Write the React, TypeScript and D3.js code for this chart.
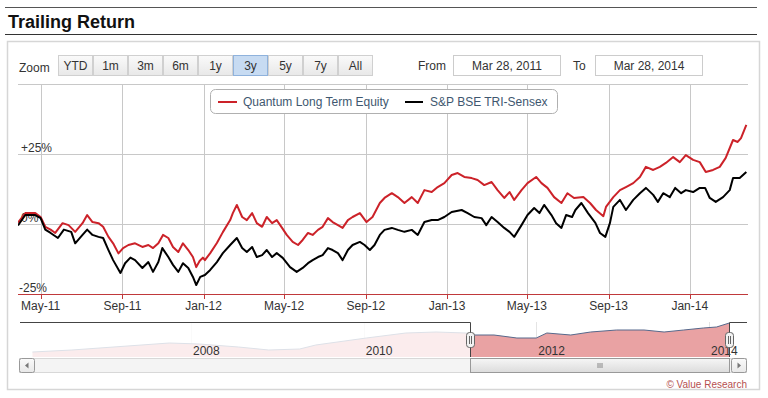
import React from "react";
import * as d3 from "d3";

const W = 768;
const H = 398;

const zoomButtons = ["YTD", "1m", "3m", "6m", "1y", "3y", "5y", "7y", "All"];
const selectedZoom = "3y";
const fromDate = "2011-03-28";
const toDate = "2014-03-28";
const fromLabel = "Mar 28, 2011";
const toLabel = "Mar 28, 2014";
const yTicks = [-25, 0, 25, 50];
const navYears = [2008, 2010, 2012, 2014];
const seriesNames = ["Quantum Long Term Equity", "S&P BSE TRI-Sensex"];

// cumulative return in %
const fundSeries: [string, number][] = [
  ["2011-03-28", 0.5], ["2011-04-08", 3.9], ["2011-04-23", 3.9], ["2011-05-01", 2.5],
  ["2011-05-08", -1], ["2011-05-16", -2], ["2011-05-23", -3.2], ["2011-06-03", 0.3],
  ["2011-06-12", -0.4], ["2011-06-22", -2.8], ["2011-07-03", 0.3], ["2011-07-10", 3.2],
  ["2011-07-18", 0.7], ["2011-07-27", 0.3], ["2011-08-03", -1], ["2011-08-11", -4.6],
  ["2011-08-18", -6.9], ["2011-08-26", -10.5], ["2011-09-02", -8.6], ["2011-09-10", -7.5],
  ["2011-09-20", -6.9], ["2011-10-01", -8.2], ["2011-10-10", -7.5], ["2011-10-17", -8.6],
  ["2011-10-25", -6.9], ["2011-11-01", -3.9], ["2011-11-09", -5], ["2011-11-16", -8.2],
  ["2011-11-24", -10], ["2011-12-01", -6.9], ["2011-12-09", -9.3], ["2011-12-16", -11.8],
  ["2011-12-21", -15.4], ["2011-12-26", -13.2], ["2011-12-31", -12], ["2012-01-03", -12.9],
  ["2012-01-11", -10.4], ["2012-01-21", -6.8], ["2012-01-30", -2.9], ["2012-02-10", 1.4],
  ["2012-02-14", 3.9], ["2012-02-20", 6.8], ["2012-02-28", 2.5], ["2012-03-06", 1.4],
  ["2012-03-14", 3.9], ["2012-03-21", 0.3], ["2012-03-29", -1], ["2012-04-05", 2.5],
  ["2012-04-13", 0.3], ["2012-04-20", 1.4], ["2012-04-28", -1.4], ["2012-05-05", -3.9],
  ["2012-05-14", -6.4], ["2012-05-22", -7.5], ["2012-05-29", -5.7], ["2012-06-06", -3.2],
  ["2012-06-13", -3.9], ["2012-06-21", -2.1], ["2012-06-28", -1], ["2012-07-06", 2.1],
  ["2012-07-13", 0.7], ["2012-07-21", -0.4], ["2012-07-28", -1.4], ["2012-08-05", 1.4],
  ["2012-08-12", 2.5], ["2012-08-23", 3.9], ["2012-09-02", 0.7], ["2012-09-11", 2.5],
  ["2012-09-22", 7.5], ["2012-09-29", 9.3], ["2012-10-10", 11], ["2012-10-19", 9.6],
  ["2012-10-29", 7.5], ["2012-11-09", 9.6], ["2012-11-18", 7.5], ["2012-11-28", 12.1],
  ["2012-12-09", 11.4], ["2012-12-18", 13.2], ["2012-12-28", 14.6], ["2013-01-08", 17.5],
  ["2013-01-17", 18.2], ["2013-01-27", 16.8], ["2013-02-07", 16.4], ["2013-02-16", 15.7],
  ["2013-02-26", 13.9], ["2013-03-09", 15], ["2013-03-18", 12.1], ["2013-03-28", 9.3],
  ["2013-04-05", 11.4], ["2013-04-12", 8.6], ["2013-04-23", 12.1], ["2013-05-02", 14.6],
  ["2013-05-15", 16.8], ["2013-05-23", 14.6], ["2013-06-01", 12.9], ["2013-06-11", 9.6],
  ["2013-06-22", 7.5], ["2013-07-01", 11], ["2013-07-11", 9.3], ["2013-07-25", 9.6],
  ["2013-08-04", 7.5], ["2013-08-13", 5], ["2013-08-24", 2.8], ["2013-08-28", 6.1],
  ["2013-09-08", 9.6], ["2013-09-18", 12.1], ["2013-09-27", 13.2], ["2013-10-08", 14.6],
  ["2013-10-18", 16.8], ["2013-10-27", 20.4], ["2013-11-07", 19.3], ["2013-11-17", 20.4],
  ["2013-11-26", 21.8], ["2013-12-07", 23.9], ["2013-12-17", 22.1], ["2013-12-26", 24.6],
  ["2014-01-06", 22.9], ["2014-01-16", 22.1], ["2014-01-25", 18.6], ["2014-02-05", 19.3],
  ["2014-02-15", 20.4], ["2014-02-24", 23.6], ["2014-03-07", 30], ["2014-03-14", 29.3],
  ["2014-03-19", 30.7], ["2014-03-27", 35.4],
];

const sensexSeries: [string, number][] = [
  ["2011-03-28", -0.5], ["2011-04-08", 3.2], ["2011-04-23", 3.2], ["2011-05-01", 2.1],
  ["2011-05-08", -2], ["2011-05-16", -3.2], ["2011-05-27", -5], ["2011-06-05", -2],
  ["2011-06-16", -2.8], ["2011-06-22", -6.9], ["2011-07-03", -3.9], ["2011-07-10", -2],
  ["2011-07-18", -3.9], ["2011-07-27", -4.6], ["2011-08-03", -5], ["2011-08-11", -9.3],
  ["2011-08-18", -12.9], ["2011-08-29", -17.5], ["2011-09-05", -14], ["2011-09-13", -12],
  ["2011-09-20", -12.9], ["2011-10-01", -15.7], ["2011-10-10", -13.6], ["2011-10-17", -17.1],
  ["2011-10-25", -13.6], ["2011-10-31", -8.6], ["2011-11-09", -11.8], ["2011-11-16", -14.6],
  ["2011-11-24", -17.1], ["2011-12-01", -14], ["2011-12-09", -15.7], ["2011-12-16", -18.9],
  ["2011-12-21", -21.8], ["2011-12-27", -18.9], ["2012-01-03", -18.2], ["2012-01-11", -16.4],
  ["2012-01-21", -13.6], ["2012-01-30", -10.4], ["2012-02-10", -7.5], ["2012-02-20", -5],
  ["2012-02-28", -8.6], ["2012-03-06", -10], ["2012-03-14", -8.2], ["2012-03-21", -11.8],
  ["2012-03-29", -11.1], ["2012-04-05", -9.3], ["2012-04-13", -11.8], ["2012-04-20", -10.4],
  ["2012-04-29", -12.1], ["2012-05-10", -15.4], ["2012-05-20", -17.1], ["2012-05-29", -15.7],
  ["2012-06-06", -14], ["2012-06-13", -12.9], ["2012-06-21", -11.8], ["2012-06-28", -11.1],
  ["2012-07-06", -8.6], ["2012-07-13", -9.3], ["2012-07-21", -10.4], ["2012-07-28", -12.9],
  ["2012-08-05", -9.3], ["2012-08-12", -7.5], ["2012-08-23", -6.4], ["2012-08-30", -7.5],
  ["2012-09-07", -9.3], ["2012-09-14", -7.5], ["2012-09-22", -3.9], ["2012-09-29", -2.1],
  ["2012-10-10", -1.4], ["2012-10-19", -2.1], ["2012-10-29", -2.8], ["2012-11-09", -2.1],
  ["2012-11-18", -3.9], ["2012-11-28", 0.7], ["2012-12-09", 1.4], ["2012-12-18", 1.4],
  ["2012-12-28", 2.5], ["2013-01-08", 4.3], ["2013-01-23", 5], ["2013-02-01", 3.9],
  ["2013-02-11", 2.5], ["2013-02-22", 2.1], ["2013-03-01", -0.4], ["2013-03-09", 2.5],
  ["2013-03-18", 0.7], ["2013-03-28", -1.4], ["2013-04-05", -2.8], ["2013-04-12", -4.6],
  ["2013-04-23", -0.4], ["2013-05-02", 3.2], ["2013-05-12", 5.7], ["2013-05-20", 3.9],
  ["2013-05-27", 6.8], ["2013-06-07", 3.2], ["2013-06-14", 0.3], ["2013-06-22", -1.4],
  ["2013-06-29", 3.2], ["2013-07-08", 2.5], ["2013-07-13", 5], ["2013-07-22", 7.5],
  ["2013-08-01", 3.9], ["2013-08-12", 0.4], ["2013-08-19", -3.2], ["2013-08-27", -4.6],
  ["2013-09-03", 0.4], ["2013-09-08", 6.1], ["2013-09-18", 8.6], ["2013-09-27", 5],
  ["2013-10-08", 8.6], ["2013-10-18", 11], ["2013-10-27", 12.9], ["2013-11-07", 10.4],
  ["2013-11-14", 7.9], ["2013-11-22", 11], ["2013-12-02", 9.6], ["2013-12-10", 12.9],
  ["2013-12-19", 11], ["2013-12-26", 12.1], ["2014-01-06", 11.4], ["2014-01-16", 12.9],
  ["2014-01-24", 12.9], ["2014-01-31", 9.3], ["2014-02-09", 7.9], ["2014-02-20", 9.6],
  ["2014-03-02", 12.1], ["2014-03-07", 16.4], ["2014-03-17", 16.4], ["2014-03-27", 18.6],
];

// navigator (long history of the fund)
const navSeries: [string, number][] = [
  ["2006-03-01", 5], ["2006-08-15", 7], ["2007-10-01", 14], ["2008-02-05", 13],
  ["2008-07-20", 10], ["2008-11-25", 7], ["2009-04-05", 8], ["2009-06-12", 12],
  ["2010-01-12", 19], ["2010-06-28", 24], ["2010-11-03", 25], ["2011-03-10", 24],
  ["2011-04-12", 22], ["2011-07-06", 22], ["2011-10-11", 19], ["2012-01-01", 19],
  ["2012-02-15", 24], ["2012-05-26", 22], ["2012-08-18", 25], ["2012-12-06", 27],
  ["2013-04-01", 27], ["2013-06-25", 25], ["2013-09-16", 27], ["2013-12-08", 29],
  ["2014-02-02", 30], ["2014-03-28", 34],
];

const parse = d3.timeParse("%Y-%m-%d");
const font = "'Liberation Sans', Arial, sans-serif";
const red = "#cc2229";

export default function App() {
  const plot = { left: 18, right: 748, top: 84, bottom: 294 };
  const x = d3.scaleTime().domain([parse(fromDate)!, parse(toDate)!]).range([18, 747]);
  const y = d3.scaleLinear().domain([-25, 50]).range([plot.bottom, plot.top]);
  const line = d3
    .line<[string, number]>()
    .x((d) => x(parse(d[0])!))
    .y((d) => y(d[1]));
  const xTicks = x.ticks(d3.timeMonth.every(4)!);
  const fmt = d3.timeFormat("%b-%y");

  const nav = { left: 20, right: 747, top: 322, bottom: 357 };
  const xNav = d3.scaleTime().domain([new Date(2008, 0, 1), new Date(2014, 0, 1)]).range([191, 709]);
  const yNav = d3.scaleLinear().domain([0, 36]).range([nav.bottom, 321]);
  const navArea = d3
    .area<[string, number]>()
    .x((d) => xNav(parse(d[0])!))
    .y0(nav.bottom)
    .y1((d) => yNav(d[1]));
  const navLine = d3
    .line<[string, number]>()
    .x((d) => xNav(parse(d[0])!))
    .y((d) => yNav(d[1]));
  const s0 = Math.round(xNav(parse(fromDate)!));
  const s1 = Math.round(xNav(parse(toDate)!));

  return (
    <svg width={W} height={H} style={{ position: "absolute", left: 0, top: 0, background: "#fff" }} fontFamily={font}>
      <defs>
        <clipPath id="plotClip">
          <rect x={plot.left} y={plot.top - 2} width={plot.right - plot.left} height={plot.bottom - plot.top + 4} />
        </clipPath>
        <linearGradient id="btn" x1="0" y1="0" x2="0" y2="1">
          <stop offset="0" stopColor="#fafafa" />
          <stop offset="1" stopColor="#e8e8e8" />
        </linearGradient>
        <linearGradient id="thumb" x1="0" y1="0" x2="0" y2="1">
          <stop offset="0" stopColor="#f6f6f6" />
          <stop offset="1" stopColor="#dcdcdc" />
        </linearGradient>
      </defs>

      {/* header */}
      <line x1={5} x2={757} y1={7.5} y2={7.5} stroke="#555" />
      <text x={8} y={28} fontSize={18} fontWeight="bold" fill="#111">Trailing Return</text>
      <line x1={5} x2={757} y1={34.5} y2={34.5} stroke="#333" />
      <rect x={7.5} y={41.5} width={752} height={348} fill="none" stroke="#d6d6d6" strokeWidth={1.5} />

      {/* range selector */}
      <text x={19} y={72} fontSize={12} fill="#333">Zoom</text>
      {zoomButtons.map((b, i) => {
        const bx = 58 + i * 35;
        const sel = b === selectedZoom;
        return (
          <g key={b}>
            <rect x={bx + 0.5} y={55.5} width={34} height={20} fill={sel ? "#c7dbf2" : "url(#btn)"} stroke={sel ? "#8fb2dc" : "#d0d0d0"} />
            <text x={bx + 17.5} y={70} fontSize={12} textAnchor="middle" fill="#333">{b}</text>
          </g>
        );
      })}
      <text x={418} y={70} fontSize={12} fill="#333">From</text>
      <rect x={453.5} y={55.5} width={107} height={20} fill="#fff" stroke="#ccc" />
      <text x={507} y={70} fontSize={12} textAnchor="middle" fill="#333">{fromLabel}</text>
      <text x={573} y={70} fontSize={12} fill="#333">To</text>
      <rect x={595.5} y={55.5} width={107} height={20} fill="#fff" stroke="#ccc" />
      <text x={649} y={70} fontSize={12} textAnchor="middle" fill="#333">{toLabel}</text>

      {/* grid */}
      {yTicks.map((t) => (
        <line key={t} x1={plot.left} x2={plot.right} y1={Math.round(y(t)) + 0.5} y2={Math.round(y(t)) + 0.5} stroke="#c8c8c8" />
      ))}
      {xTicks.map((t) => (
        <line key={+t} x1={Math.round(x(t)) + 0.5} x2={Math.round(x(t)) + 0.5} y1={plot.top} y2={plot.bottom} stroke="#c8c8c8" />
      ))}

      {/* y labels */}
      {yTicks.filter((t) => t < 50).map((t) => (
        <text key={t} x={t < 0 ? 19 : 21} y={y(t) - 2} fontSize={12} fill="#333">
          {t > 0 ? `+${t}%` : `${t}%`}
        </text>
      ))}

      {/* series */}
      <g clipPath="url(#plotClip)">
        <path d={line(fundSeries)!} fill="none" stroke={red} strokeWidth={2} strokeLinejoin="round" />
        <path d={line(sensexSeries)!} fill="none" stroke="#000" strokeWidth={2} strokeLinejoin="round" />
      </g>

      {/* x axis */}
      <line x1={plot.left} x2={plot.right} y1={plot.bottom + 0.5} y2={plot.bottom + 0.5} stroke="#c0393b" />
      {xTicks.map((t) => (
        <g key={+t}>
          <line x1={Math.round(x(t)) + 0.5} x2={Math.round(x(t)) + 0.5} y1={plot.bottom} y2={plot.bottom + 5} stroke="#c0393b" />
          <text x={x(t)} y={310} fontSize={12} textAnchor="middle" fill="#333">{fmt(t)}</text>
        </g>
      ))}

      {/* legend */}
      <rect x={210.5} y={89.5} width={347} height={24} rx={5} fill="#fff" stroke="#b0b0b0" />
      <line x1={218} x2={237} y1={102} y2={102} stroke={red} strokeWidth={2} />
      <text x={243} y={106} fontSize={12} fill="#3e576f">{seriesNames[0]}</text>
      <line x1={405} x2={423} y1={102} y2={102} stroke="#000" strokeWidth={2} />
      <text x={430} y={106} fontSize={12} fill="#3e576f">{seriesNames[1]}</text>

      {/* navigator */}
      {navYears.map((yr) => {
        const tx = Math.round(xNav(new Date(yr, 0, 1))) + 0.5;
        return <line key={yr} x1={tx} x2={tx} y1={nav.top} y2={nav.bottom} stroke="#e4e4e4" />;
      })}
      <path d={navArea(navSeries)!} fill="#e9a2a3" />
      <path d={navLine(navSeries)!} fill="none" stroke="#56698c" strokeWidth={1} />
      <rect x={nav.left} y={nav.top} width={s0 - nav.left} height={nav.bottom - nav.top} fill="#fff" opacity={0.8} />
      <rect x={s1} y={nav.top} width={nav.right - s1} height={nav.bottom - nav.top} fill="#fff" opacity={0.8} />
      {navYears.map((yr) => (
        <text key={yr} x={xNav(new Date(yr, 0, 1)) + 2} y={355} fontSize={12} fill="#333">{yr}</text>
      ))}
      <path
        d={`M${nav.left},${nav.top + 0.5}H${s0 + 0.5}V${nav.bottom}M${s1 + 0.5},${nav.bottom}V${nav.top + 0.5}H${nav.right}`}
        fill="none"
        stroke="#444"
      />

      {/* scrollbar */}
      <rect x={19.5} y={358.5} width={727} height={14} fill="#f4f4f4" stroke="#d8d8d8" />
      <rect x={s0 + 0.5} y={358.5} width={s1 - s0} height={14} fill="url(#thumb)" stroke="#999" />
      {[-2, 0, 2].map((o) => (
        <line key={o} x1={(s0 + s1) / 2 + o + 0.5} x2={(s0 + s1) / 2 + o + 0.5} y1={363} y2={368} stroke="#888" />
      ))}
      <rect x={19.5} y={358.5} width={15} height={14} rx={2} fill="url(#btn)" stroke="#999" />
      <path d="M28.5,362.5L25,365.5L28.5,368.5Z" fill="#777" />
      <rect x={731.5} y={358.5} width={15} height={14} rx={2} fill="url(#btn)" stroke="#999" />
      <path d="M737.5,362.5L741,365.5L737.5,368.5Z" fill="#777" />

      {/* handles */}
      {[s0, s1].map((hx) => (
        <g key={hx}>
          <rect x={hx - 3.5} y={332.5} width={8} height={15} rx={3} fill="#f2f2f2" stroke="#666" />
          <line x1={hx - 0.5} x2={hx - 0.5} y1={336} y2={344} stroke="#666" />
          <line x1={hx + 1.5} x2={hx + 1.5} y1={336} y2={344} stroke="#666" />
        </g>
      ))}

      <text x={747} y={388} fontSize={10} textAnchor="end" fill="#b5504f">© Value Research</text>
    </svg>
  );
}
